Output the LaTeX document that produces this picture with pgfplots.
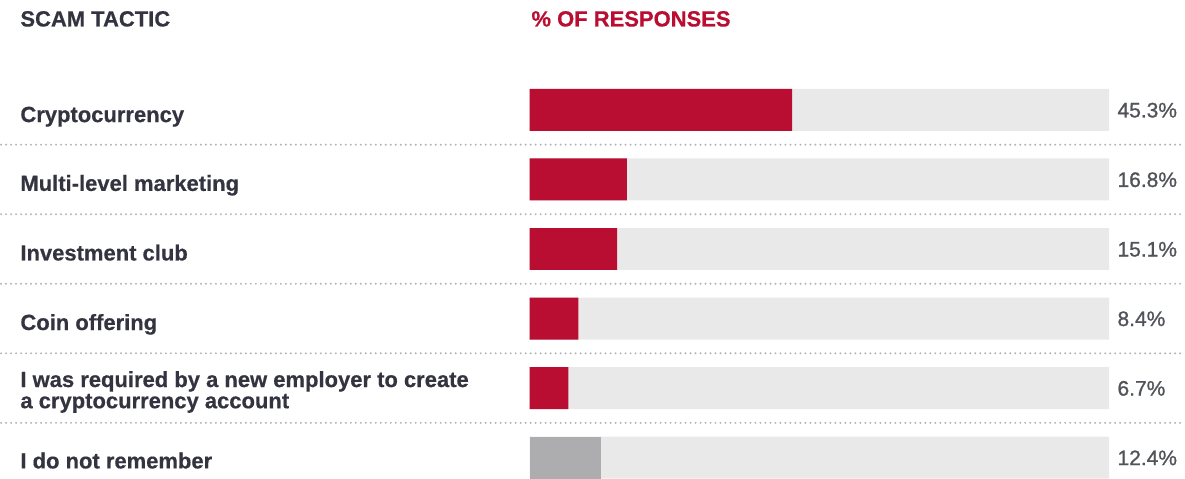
\documentclass[border=0pt]{standalone}
\usepackage{pgfplots}
\pgfplotsset{compat=1.18}
\usepackage{fontspec}
\setmainfont{Liberation Sans}
\newfontfamily\labfont[BoldFeatures={FakeBold=0.5}]{Liberation Sans}
\newfontfamily\valfont[FakeBold=1.0]{Liberation Sans}
\definecolor{cred}{RGB}{185,14,49}
\definecolor{cbg}{RGB}{233,233,233}
\definecolor{cgray}{RGB}{173,173,175}
\definecolor{ctext}{RGB}{51,52,63}
\definecolor{cval}{RGB}{80,83,88}
\definecolor{cdot}{RGB}{180,180,180}
\begin{document}
\begin{tikzpicture}
\begin{axis}[
  x=2.9bp, y=34.8bp,
  xmin=0, xmax=100, ymin=-5.3017, ymax=0.5,
  hide axis, clip=false,
]
% invisible bounding box (full image extent)
\path (axis cs:-91.379,1.5805) rectangle (axis cs:112.931,-5.3017);
% dotted separators
\foreach \yy in {-0.5,-1.5,-2.5,-3.5,-4.5}{
  \edef\tmp{\noexpand\draw[cdot, line width=1.1bp, line cap=round, dash pattern=on 0pt off 2.5bp] (axis cs:-91.2,\yy) -- (axis cs:112.9,\yy);}\tmp
}
\addplot[xbar, bar width=21bp, bar shift=0pt, fill=cbg, draw=none] coordinates {(100,0) (100,-1) (100,-2) (100,-3) (100,-4) (100,-5)};
\addplot[xbar, bar width=21bp, bar shift=0pt, fill=cred, draw=none] coordinates {(45.3,0) (16.8,-1) (15.1,-2) (8.4,-3) (6.7,-4)};
\addplot[xbar, bar width=21bp, bar shift=0pt, fill=cgray, draw=none] coordinates {(12.4,-5)};
% styles
\tikzset{lab/.style={anchor=base west, inner sep=0pt, font=\labfont\fontsize{11bp}{13bp}\selectfont\bfseries, text=ctext},
         val/.style={anchor=base west, inner sep=0pt, font=\valfont\fontsize{10.5bp}{12bp}\selectfont, text=cval}}
% headers
\node[lab] at (axis cs:-87.93,1.1997) {SCAM TACTIC};
\node[lab, text=cred] at (axis cs:0.26,1.1997) {\% OF RESPONSES};
% row labels
\node[lab] at (axis cs:-87.93,-0.175) {Cryptocurrency};
\node[lab] at (axis cs:-87.93,-1.165) {Multi-level marketing};
\node[lab] at (axis cs:-87.93,-2.165) {Investment club};
\node[lab] at (axis cs:-87.93,-3.165) {Coin offering};
\node[lab] at (axis cs:-87.93,-3.985) {I was required by a new employer to create};
\node[lab] at (axis cs:-87.93,-4.290) {a cryptocurrency account};
\node[lab] at (axis cs:-87.93,-5.155) {I do not remember};
% values
\node[val] at (axis cs:101.38,-0.108) {45.3\%};
\node[val] at (axis cs:101.38,-1.108) {16.8\%};
\node[val] at (axis cs:101.38,-2.108) {15.1\%};
\node[val] at (axis cs:101.38,-3.108) {8.4\%};
\node[val] at (axis cs:101.38,-4.108) {6.7\%};
\node[val] at (axis cs:101.38,-5.108) {12.4\%};
\end{axis}
\end{tikzpicture}
\end{document}
